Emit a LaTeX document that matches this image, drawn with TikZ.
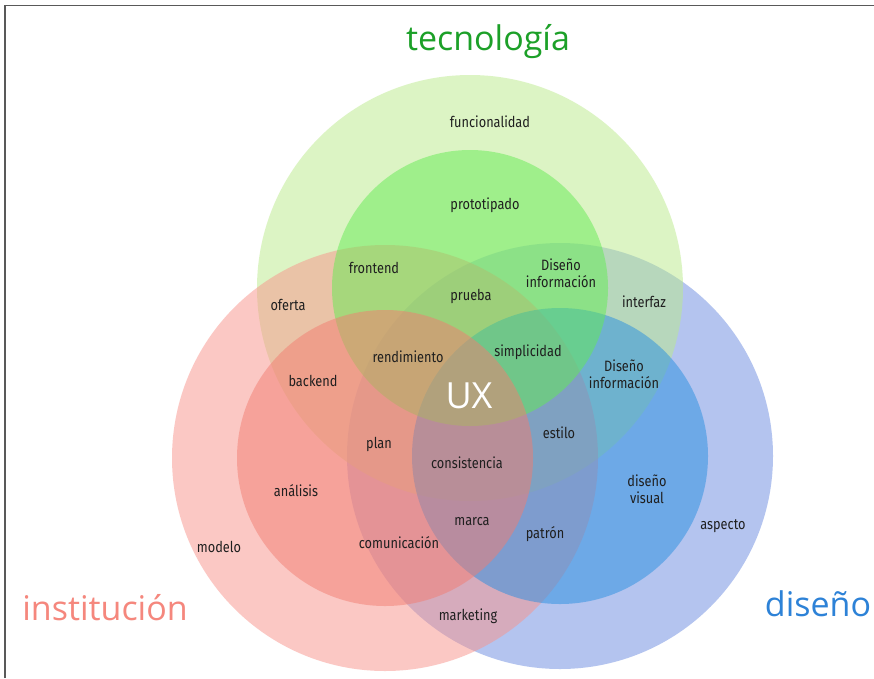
\documentclass[tikz,border=0pt]{standalone}
\usepackage{fontspec}
\setmainfont{Open Sans}
\newfontfamily\lblfont[FakeStretch=0.85]{Fira Sans}
\definecolor{verdeA}{RGB}{187,235,139}
\definecolor{verdeB}{RGB}{99,235,83}
\definecolor{rosaA}{RGB}{249,147,139}
\definecolor{rosaB}{RGB}{242,125,113}
\definecolor{azulA}{RGB}{107,139,225}
\definecolor{azulB}{RGB}{39,143,224}
\definecolor{titverde}{RGB}{28,160,40}
\definecolor{titrosa}{RGB}{245,135,125}
\definecolor{titazul}{RGB}{45,130,215}
\tikzset{
  lbl/.style={font=\lblfont\fontsize{15}{16.5}\selectfont, text=black!88, align=center, inner sep=0pt},
  titulo/.style={font=\fontsize{34}{36}\selectfont, anchor=base, inner sep=0pt},
  disco/.style={fill opacity=0.5}
}
\begin{document}
\begin{tikzpicture}[x=1pt,y=-1pt]
        \useasboundingbox (0,0) rectangle (874,678);
        \fill[white] (0,0) rectangle (874,678);
        \draw[black!65, line width=1.3pt] (5,678) -- (5,5.5) -- (874,5.5);

        % circulos exteriores
        \fill[disco, azulA] (560,456) circle [radius=213pt];
        \fill[disco, verdeA] (470,288) circle [radius=213pt];
        \fill[disco, rosaA] (385,458) circle [radius=213pt];
        % circulos interiores
        \fill[disco, azulB] (560,456) circle [radius=148pt];
        \fill[disco, verdeB] (470,288) circle [radius=138pt];
        \fill[disco, rosaB] (385,458) circle [radius=148pt];

        \node[titulo, text=titverde] (tecnologia) at (488,50) {tecnología};
        \node[titulo, text=titrosa] (institucion) at (105,620) {institución};
        \node[titulo, text=titazul] (diseno) at (818,616) {diseño};

        \node[lbl] (funcionalidad) at (490,122) {funcionalidad};
        \node[lbl] (prototipado) at (485,205) {prototipado};
        \node[lbl] (frontend) at (374,268) {frontend};
        \node[lbl] (infoA) at (561,273) {Diseño\\información};
        \node[lbl] (prueba) at (471,296) {prueba};
        \node[lbl] (oferta) at (288,305) {oferta};
        \node[lbl] (interfaz) at (644,302) {interfaz};
        \node[lbl] (rendimiento) at (408,357) {rendimiento};
        \node[lbl] (simplicidad) at (528,352) {simplicidad};
        \node[lbl] (backend) at (313,381) {backend};
        \node[lbl] (infoB) at (624,374) {Diseño\\información};
        \node[font=\fontsize{36}{38}\selectfont, text=white, inner sep=0pt] (ux) at (469,396) {UX};
        \node[lbl] (plan) at (379,444) {plan};
        \node[lbl] (estilo) at (559,433) {estilo};
        \node[lbl] (consistencia) at (467,463) {consistencia};
        \node[lbl] (analisis) at (296,491) {análisis};
        \node[lbl] (visual) at (647,489) {diseño\\visual};
        \node[lbl] (aspecto) at (723,526) {aspecto};
        \node[lbl] (marca) at (472,522) {marca};
        \node[lbl] (patron) at (545,534) {patrón};
        \node[lbl] (modelo) at (219,547) {modelo};
        \node[lbl] (comunicacion) at (399,543) {comunicación};
        \node[lbl] (marketing) at (468,616) {marketing};
    \end{tikzpicture}
\end{document}
